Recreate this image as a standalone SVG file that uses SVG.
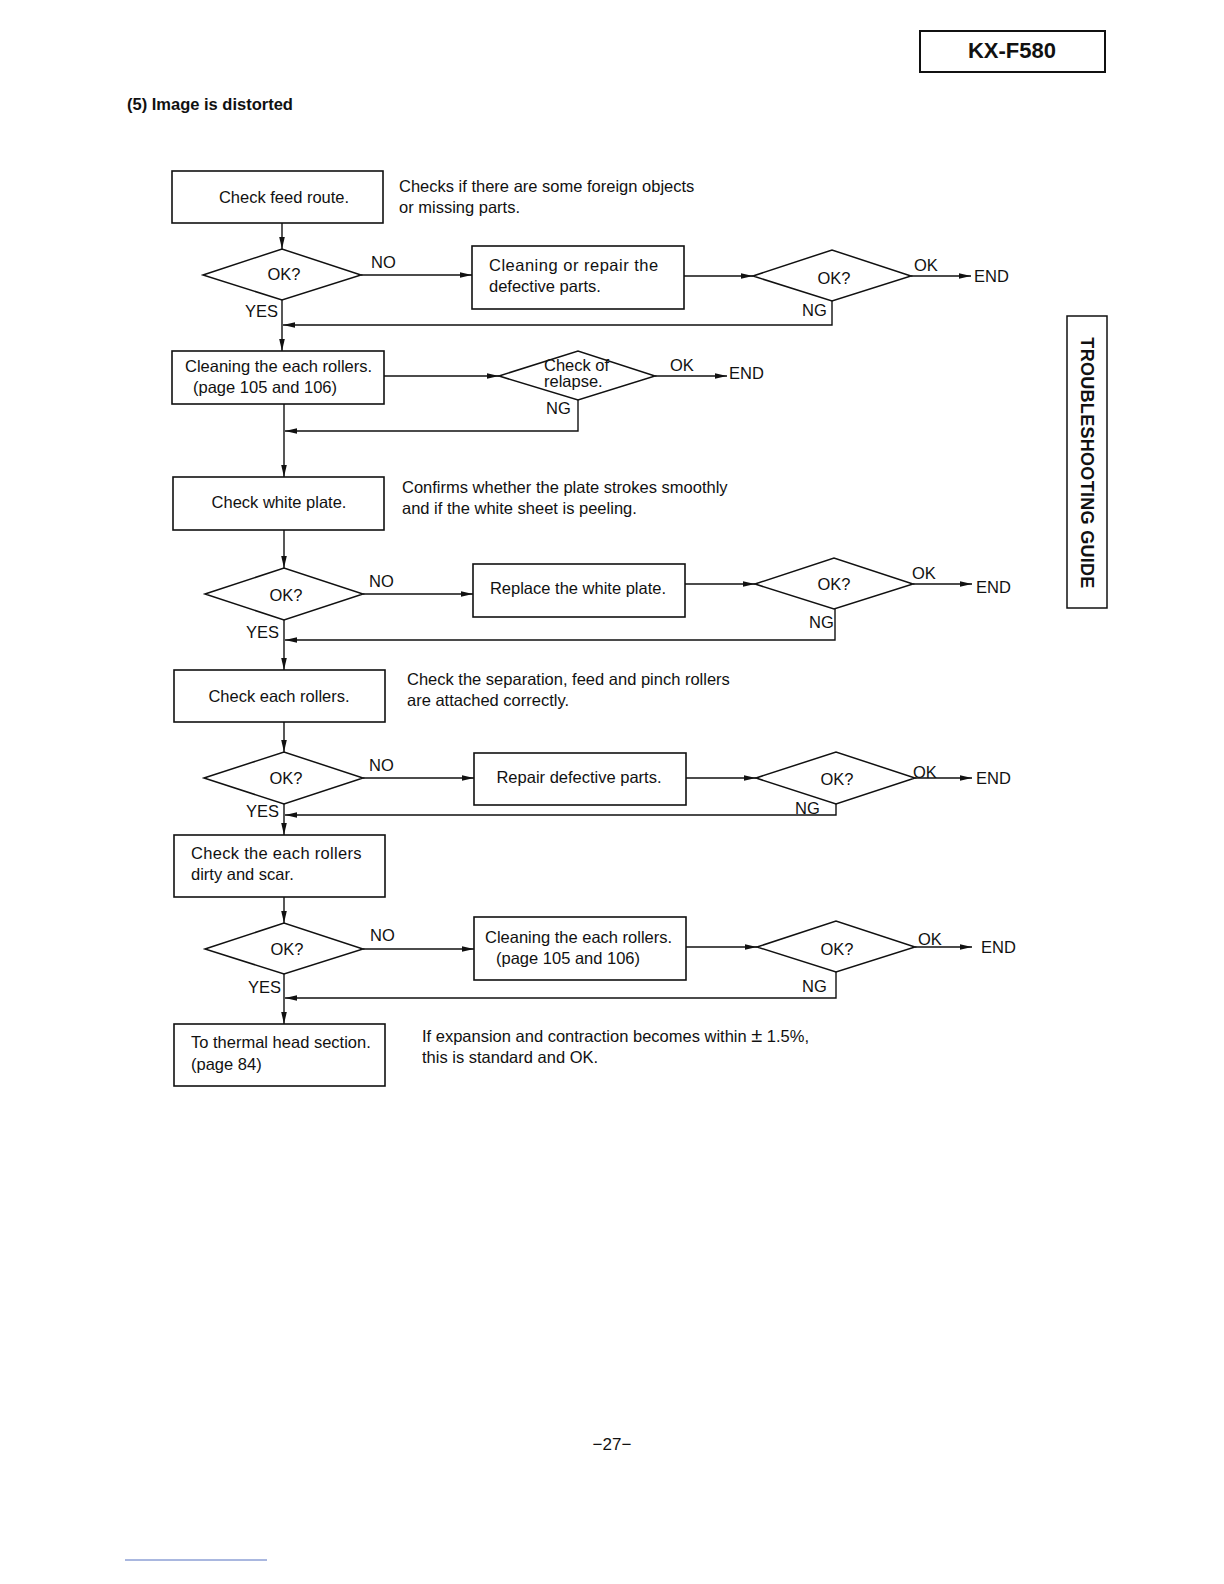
<svg xmlns="http://www.w3.org/2000/svg" width="1224" height="1584" viewBox="0 0 1224 1584">
<defs>
<style>
text{font-family:"Liberation Sans",Arial,sans-serif;font-size:16.5px;fill:#111}
.b{font-weight:bold}
.m{text-anchor:middle}
.box{fill:#fff;stroke:#111;stroke-width:1.6}
.dia{fill:#fff;stroke:#111;stroke-width:1.5}
.ln{fill:none;stroke:#111;stroke-width:1.4}
</style>
<marker id="ar" markerUnits="userSpaceOnUse" markerWidth="12" markerHeight="8" refX="12" refY="4" orient="auto">
<path d="M0,1.2 L12,4 L0,6.8 z" fill="#111"/>
</marker>
</defs>
<rect width="1224" height="1584" fill="#fff"/>
<line x1="125" y1="1560" x2="267" y2="1560" stroke="#5570c0" stroke-width="1"/>

<g id="header">
<rect x="920" y="31" width="185" height="41" fill="#fff" stroke="#111" stroke-width="2"/>
<text x="1012" y="58" class="b m" style="font-size:22px">KX-F580</text>
<text x="127" y="110" class="b">(5) Image is distorted</text>
<rect x="1067" y="316" width="40" height="292" fill="#fff" stroke="#111" stroke-width="1.5"/>
<text x="1087" y="463" class="b m" style="font-size:18px;letter-spacing:0.3px" dominant-baseline="central" transform="rotate(90 1087 463)">TROUBLESHOOTING GUIDE</text>
<text x="612" y="1450" class="m" style="font-size:17px">−27−</text>
</g>

<g id="connectors">
<line class="ln" x1="282" y1="223" x2="282" y2="249" marker-end="url(#ar)"/>
<line class="ln" x1="361" y1="275" x2="472" y2="275" marker-end="url(#ar)"/>
<line class="ln" x1="684" y1="276" x2="753" y2="276" marker-end="url(#ar)"/>
<line class="ln" x1="911" y1="276" x2="971" y2="276" marker-end="url(#ar)"/>
<polyline class="ln" points="832,301 832,325 283,325" marker-end="url(#ar)"/>
<line class="ln" x1="282" y1="300" x2="282" y2="351" marker-end="url(#ar)"/>
<line class="ln" x1="384" y1="376" x2="499" y2="376" marker-end="url(#ar)"/>
<line class="ln" x1="655" y1="376" x2="727" y2="376" marker-end="url(#ar)"/>
<polyline class="ln" points="578,400 578,431 285,431" marker-end="url(#ar)"/>
<line class="ln" x1="284" y1="404" x2="284" y2="477" marker-end="url(#ar)"/>
<line class="ln" x1="284" y1="530" x2="284" y2="568" marker-end="url(#ar)"/>
<line class="ln" x1="363" y1="594" x2="473" y2="594" marker-end="url(#ar)"/>
<line class="ln" x1="685" y1="584" x2="755" y2="584" marker-end="url(#ar)"/>
<line class="ln" x1="913" y1="584" x2="972" y2="584" marker-end="url(#ar)"/>
<polyline class="ln" points="835,609 835,640 285,640" marker-end="url(#ar)"/>
<line class="ln" x1="284" y1="620" x2="284" y2="670" marker-end="url(#ar)"/>
<line class="ln" x1="284" y1="722" x2="284" y2="752" marker-end="url(#ar)"/>
<line class="ln" x1="363" y1="778" x2="474" y2="778" marker-end="url(#ar)"/>
<line class="ln" x1="686" y1="778" x2="756" y2="778" marker-end="url(#ar)"/>
<line class="ln" x1="915" y1="778" x2="972" y2="778" marker-end="url(#ar)"/>
<polyline class="ln" points="836,804 836,815 285,815" marker-end="url(#ar)"/>
<line class="ln" x1="284" y1="804" x2="284" y2="835" marker-end="url(#ar)"/>
<line class="ln" x1="284" y1="897" x2="284" y2="923" marker-end="url(#ar)"/>
<line class="ln" x1="363" y1="949" x2="474" y2="949" marker-end="url(#ar)"/>
<line class="ln" x1="686" y1="947" x2="757" y2="947" marker-end="url(#ar)"/>
<line class="ln" x1="915" y1="947" x2="972" y2="947" marker-end="url(#ar)"/>
<polyline class="ln" points="836,972 836,998 285,998" marker-end="url(#ar)"/>
<line class="ln" x1="284" y1="974" x2="284" y2="1024" marker-end="url(#ar)"/>
</g>

<g id="labels">
<text x="371" y="268">NO</text>
<text x="245" y="317">YES</text>
<text x="914" y="271">OK</text>
<text x="974" y="282">END</text>
<text x="802" y="316">NG</text>
<text x="670" y="371">OK</text>
<text x="729" y="379">END</text>
<text x="546" y="414">NG</text>
<text x="369" y="587">NO</text>
<text x="246" y="638">YES</text>
<text x="912" y="579">OK</text>
<text x="976" y="593">END</text>
<text x="809" y="628">NG</text>
<text x="369" y="771">NO</text>
<text x="246" y="817">YES</text>
<text x="913" y="778">OK</text>
<text x="976" y="784">END</text>
<text x="795" y="814">NG</text>
<text x="370" y="941">NO</text>
<text x="248" y="993">YES</text>
<text x="918" y="945">OK</text>
<text x="981" y="953">END</text>
<text x="802" y="992">NG</text>
</g>

<g id="notes">
<text x="399" y="192">Checks if there are some foreign objects</text>
<text x="399" y="213">or missing parts.</text>
<text x="402" y="493">Confirms whether the plate strokes smoothly</text>
<text x="402" y="514">and if the white sheet is peeling.</text>
<text x="407" y="685">Check the separation, feed and pinch rollers</text>
<text x="407" y="706">are attached correctly.</text>
<text x="422" y="1042">If expansion and contraction becomes within <tspan style="font-size:20px">±</tspan> 1.5%,</text>
<text x="422" y="1063">this is standard and OK.</text>
</g>

<g id="n1"><rect class="box" x="172" y="171" width="211" height="52"/><text x="284" y="203" class="m">Check feed route.</text></g>
<g id="d1"><polygon class="dia" points="203,275 282,249 361,275 282,300"/><text x="284" y="280" class="m">OK?</text></g>
<g id="n2"><rect class="box" x="472" y="246" width="212" height="63"/><text x="489" y="271" style="letter-spacing:0.5px">Cleaning or repair the</text><text x="489" y="292">defective parts.</text></g>
<g id="d2"><polygon class="dia" points="753,276 832,250 911,276 832,301"/><text x="834" y="284" class="m">OK?</text></g>

<g id="n3"><rect class="box" x="172" y="351" width="212" height="53"/><text x="185" y="372">Cleaning the each rollers.</text><text x="193" y="393">(page 105 and 106)</text></g>
<g id="d3"><polygon class="dia" points="499,376 578,351 655,376 578,400"/><text x="544" y="371">Check of</text><text x="544" y="387">relapse.</text></g>

<g id="n4"><rect class="box" x="173" y="477" width="211" height="53"/><text x="279" y="508" class="m">Check white plate.</text></g>
<g id="d4"><polygon class="dia" points="205,594 284,568 363,594 284,620"/><text x="286" y="601" class="m">OK?</text></g>
<g id="n5"><rect class="box" x="473" y="564" width="212" height="53"/><text x="578" y="594" class="m">Replace the white plate.</text></g>
<g id="d5"><polygon class="dia" points="755,584 834,558 913,584 834,609"/><text x="834" y="590" class="m">OK?</text></g>

<g id="n6"><rect class="box" x="174" y="670" width="211" height="52"/><text x="279" y="702" class="m">Check each rollers.</text></g>
<g id="d6"><polygon class="dia" points="204,778 284,752 363,778 284,804"/><text x="286" y="784" class="m">OK?</text></g>
<g id="n7"><rect class="box" x="474" y="753" width="212" height="52"/><text x="579" y="783" class="m">Repair defective parts.</text></g>
<g id="d7"><polygon class="dia" points="756,778 836,752 915,778 836,804"/><text x="837" y="785" class="m">OK?</text></g>

<g id="n8"><rect class="box" x="174" y="835" width="211" height="62"/><text x="191" y="859" style="letter-spacing:0.3px">Check the each rollers</text><text x="191" y="880">dirty and scar.</text></g>
<g id="d8"><polygon class="dia" points="205,949 284,923 363,949 284,974"/><text x="287" y="955" class="m">OK?</text></g>
<g id="n9"><rect class="box" x="474" y="917" width="212" height="63"/><text x="485" y="943">Cleaning the each rollers.</text><text x="496" y="964">(page 105 and 106)</text></g>
<g id="d9"><polygon class="dia" points="757,947 836,921 915,947 836,972"/><text x="837" y="955" class="m">OK?</text></g>

<g id="n10"><rect class="box" x="174" y="1024" width="211" height="62"/><text x="191" y="1048">To thermal head section.</text><text x="191" y="1070">(page 84)</text></g>
</svg>
